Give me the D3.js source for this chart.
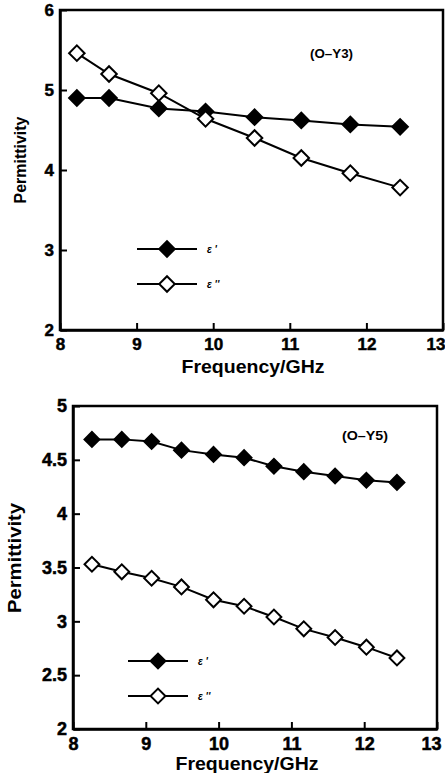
<!DOCTYPE html>
<html>
<head>
<meta charset="utf-8">
<script src="https://cdn.jsdelivr.net/npm/d3@7"></script>
<style>
  body { margin: 0; background: #fff; }
  text { font-family: "Liberation Sans", Arial, sans-serif; font-weight: bold; fill: #000; }
</style>
</head>
<body>
<script>
// data
const freqY3 = [8.22, 8.64, 9.29, 9.90, 10.54, 11.15, 11.79, 12.44];
const realY3 = [4.90, 4.90, 4.77, 4.73, 4.66, 4.62, 4.57, 4.54];
const imagY3 = [5.46, 5.20, 4.96, 4.64, 4.40, 4.15, 3.96, 3.78];

const freqY5 = [8.26, 8.67, 9.08, 9.49, 9.93, 10.35, 10.76, 11.17, 11.60, 12.03, 12.45];
const realY5 = [4.69, 4.69, 4.67, 4.59, 4.55, 4.52, 4.44, 4.39, 4.35, 4.31, 4.29];
const imagY5 = [3.53, 3.46, 3.40, 3.32, 3.20, 3.14, 3.04, 2.93, 2.85, 2.76, 2.66];

const xTicks = [8, 9, 10, 11, 12, 13];
const yTicksY3 = [2, 3, 4, 5, 6];
const yTicksY5 = [2, 2.5, 3, 3.5, 4, 4.5, 5];

const svg = d3.select('body')
              .append('svg')
              .attr('width', 445)
              .attr('height', 773)
              .style('background', '#fff');

function drawPanel(p) {
  const g = svg.append('g')
               .attr('transform', `translate(${p.left}, ${p.top})`);

  const x = d3.scaleLinear().domain([8, 13]).range([0, p.w]);
  const y = d3.scaleLinear().domain(p.yDomain).range([p.h, 0]);

  // frame
  g.append('rect')
   .attr('width', p.w).attr('height', p.h)
   .attr('fill', 'none').attr('stroke', '#000').attr('stroke-width', 2.5);

  const axeX = d3.axisBottom(x).tickValues(xTicks).tickFormat(d3.format('d'))
                 .tickSizeInner(-7).tickSizeOuter(0).tickPadding(8);
  const axeY = d3.axisLeft(y).tickValues(p.yTicks).tickFormat(d => String(d))
                 .tickSizeInner(-7).tickSizeOuter(0).tickPadding(6);

  const gx = g.append('g').attr('transform', `translate(0, ${p.h})`).call(axeX);
  const gy = g.append('g').call(axeY);
  [gx, gy].forEach(a => {
    a.attr('font-family', null).attr('font-size', null);
    a.select('.domain').attr('stroke-width', 2.5);
    a.selectAll('.tick line').attr('stroke-width', 2);
    a.selectAll('text').style('font-size', p.tickFont + 'px')
     .style('font-family', '"Liberation Sans", Arial, sans-serif').style('font-weight', '700')
     .style('stroke', '#000').style('stroke-width', 0.5);
  });
  // last x label sits against the page edge
  gx.selectAll('.tick text').filter(d => d === 13)
    .attr('text-anchor', 'end').attr('x', p.lastDx);

  const line = d3.line().x(d => x(d[0])).y(d => y(d[1]));
  const diamond = d3.symbol(d3.symbolSquare, p.mark);

  const series = [
    {vals: p.real, fill: '#000'},
    {vals: p.imag, fill: '#fff'}
  ];
  series.forEach(s => {
    const pts = p.freq.map((f, i) => [f, s.vals[i]]);
    g.append('path').attr('d', line(pts))
     .attr('fill', 'none').attr('stroke', '#000').attr('stroke-width', 2);
    g.selectAll(null).data(pts).enter().append('path')
     .attr('d', diamond)
     .attr('transform', d => `translate(${x(d[0])}, ${y(d[1])}) rotate(45)`)
     .attr('fill', s.fill).attr('stroke', '#000').attr('stroke-width', 2);
  });

  // legend
  const labels = ["\u03b5 '", "\u03b5 ''"];
  series.forEach((s, i) => {
    const ly = p.legY + i * p.legGap;
    g.append('line').attr('x1', p.legX).attr('x2', p.legX + 60)
     .attr('y1', ly).attr('y2', ly).attr('stroke', '#000').attr('stroke-width', 2);
    g.append('path').attr('d', diamond)
     .attr('transform', `translate(${p.legX + 30}, ${ly}) rotate(45)`)
     .attr('fill', s.fill).attr('stroke', '#000').attr('stroke-width', 2);
    g.append('text').attr('x', p.legX + 70).attr('y', ly + 4)
     .style('font-size', '10px').style('font-style', 'italic')
     .text(labels[i]);
  });

  g.append('text').attr('x', p.tagX).attr('y', p.tagY)
   .style('font-size', '12px').attr('textLength', p.tagW).attr('lengthAdjust', 'spacingAndGlyphs')
   .text(p.tag);

  g.append('text')
   .attr('transform', `translate(${p.yTitleX}, ${p.yTitleY}) rotate(-90)`)
   .attr('text-anchor', 'middle')
   .style('font-size', p.yTitleFont + 'px')
   .attr('textLength', p.yTitleLen).attr('lengthAdjust', 'spacingAndGlyphs')
   .text('Permittivity');

  g.append('text')
   .attr('x', p.xTitleX).attr('y', p.xTitleY)
   .attr('text-anchor', 'middle')
   .style('font-size', '18px')
   .attr('textLength', 143).attr('lengthAdjust', 'spacingAndGlyphs')
   .text('Frequency/GHz');
}

drawPanel({
  left: 60, top: 10, w: 383, h: 320,
  yDomain: [2, 6], yTicks: yTicksY3, tickFont: 17, mark: 120, lastDx: 2,
  freq: freqY3, real: realY3, imag: imagY3,
  legX: 77, legY: 239, legGap: 35,
  tag: '(O\u2013Y3)', tagX: 250, tagY: 48, tagW: 43,
  yTitleX: -34, yTitleY: 150, yTitleFont: 16, yTitleLen: 87,
  xTitleX: 193, xTitleY: 363
});

drawPanel({
  left: 73, top: 406, w: 364, h: 323,
  yDomain: [2, 5], yTicks: yTicksY5, tickFont: 18, mark: 110, lastDx: 4,
  freq: freqY5, real: realY5, imag: imagY5,
  legX: 55, legY: 255, legGap: 35,
  tag: '(O\u2013Y5)', tagX: 269, tagY: 34, tagW: 46,
  yTitleX: -52, yTitleY: 152, yTitleFont: 18, yTitleLen: 110,
  xTitleX: 174, xTitleY: 364
});
</script>
</body>
</html>
